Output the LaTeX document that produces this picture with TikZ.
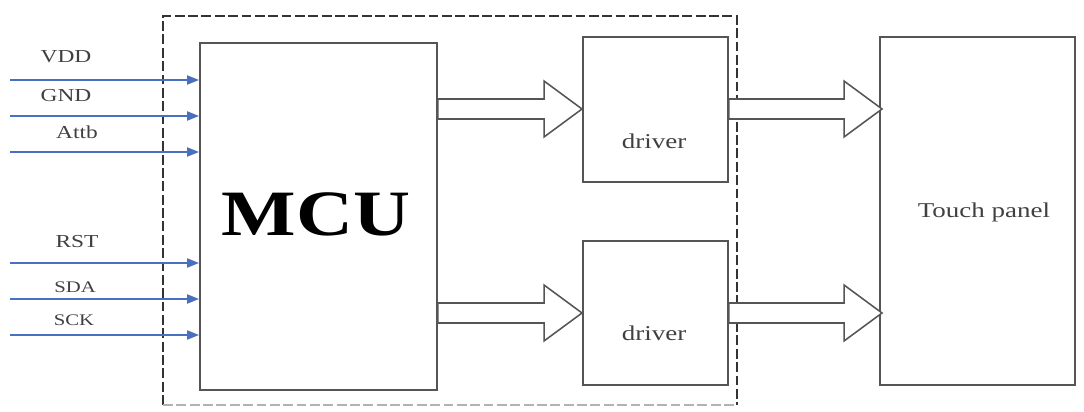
\documentclass[tikz,border=0pt]{standalone}
\usepackage{fontspec}
\setmainfont{Liberation Serif}
\usetikzlibrary{arrows.meta,calc,positioning}

\definecolor{sigblue}{RGB}{72,112,190}
\definecolor{boxgray}{RGB}{85,85,85}

\tikzset{
  box/.style={draw=boxgray,line width=1.3pt,inner sep=0pt},
  lbl/.style={text=black!75,font=\fontsize{13}{13}\selectfont,xscale=1.28,inner sep=0pt},
  sig/.style={draw=sigblue,line width=1pt,-{Triangle[length=8.5pt,width=6.5pt]}},
  hollow/.style={draw=boxgray,line width=1.1pt,fill=white,line join=miter,
    to path={let \p1=(\tikztostart), \p2=(\tikztotarget) in
      (\x1,\y1+7.1pt) -- (\x2-27pt,\y1+7.1pt) -- (\x2-27pt,\y1+19.9pt) -- (\x2,\y1)
      -- (\x2-27pt,\y1-19.9pt) -- (\x2-27pt,\y1-7.1pt) -- (\x1,\y1-7.1pt) -- cycle}}
}

\begin{document}
\begin{tikzpicture}[x=0.025cm,y=-0.025cm]
\useasboundingbox (0,0) rectangle (1084,412);

% dashed frame round MCU and drivers
\draw[black!80,line width=1.2pt,dash pattern=on 7pt off 2.5pt] (163,405) -- (163,16) -- (737,16) -- (737,405);
\draw[black!30,line width=1pt,dash pattern=on 7pt off 2.5pt] (163,405) -- (737,405);

% blocks
\node[box,minimum width=5.925cm,minimum height=8.675cm] (mcu) at (318.5,216.5) {};
\node[box,minimum width=3.625cm,minimum height=3.625cm] (drv1) at (655.5,109.5) {};
\node[box,minimum width=3.625cm,minimum height=3.6cm] (drv2) at (655.5,313) {};
\node[box,minimum width=4.875cm,minimum height=8.7cm] (panel) at (977.5,211) {};

\node[font=\fontsize{46}{46}\bfseries,xscale=1.22,inner sep=0pt] (mcutxt) at (316,214) {MCU};
\node[lbl,font=\fontsize{15}{15}\selectfont,xscale=1] (drv1txt) at (654,141) {driver};
\node[lbl,font=\fontsize{15}{15}\selectfont,xscale=1] (drv2txt) at (654,333) {driver};
\node[lbl,font=\fontsize{15}{15}\selectfont,xscale=1] (paneltxt) at (984,212) {Touch panel};

% input signals
\coordinate (vdd) at (10,80);
\coordinate (gnd) at (10,116);
\coordinate (attb) at (10,152);
\coordinate (rst) at (10,263);
\coordinate (sda) at (10,299);
\coordinate (sck) at (10,335);
\draw[sig] (vdd) -- (vdd -| mcu.west);
\draw[sig] (gnd) -- (gnd -| mcu.west);
\draw[sig] (attb) -- (attb -| mcu.west);
\draw[sig] (rst) -- (rst -| mcu.west);
\draw[sig] (sda) -- (sda -| mcu.west);
\draw[sig] (sck) -- (sck -| mcu.west);

\node[lbl] (vddtxt) at (66,57) {VDD};
\node[lbl] (gndtxt) at (66,96) {GND};
\node[lbl] (attbtxt) at (77,132) {Attb};
\node[lbl] (rsttxt) at (77,242) {RST};
\node[lbl,font=\fontsize{11.5}{11.5}\selectfont] (sdatxt) at (75,287) {SDA};
\node[lbl,font=\fontsize{11.5}{11.5}\selectfont] (scktxt) at (74,320) {SCK};

% hollow arrows
\coordinate (a1) at (582,109);
\coordinate (a2) at (582,313);
\coordinate (a3) at (882,109);
\coordinate (a4) at (882,313);
\draw[hollow] (mcu.east |- a1) to (a1);
\draw[hollow] (mcu.east |- a2) to (a2);
\draw[hollow] (drv1.east |- a3) to (a3);
\draw[hollow] (drv2.east |- a4) to (a4);
\end{tikzpicture}
\end{document}
